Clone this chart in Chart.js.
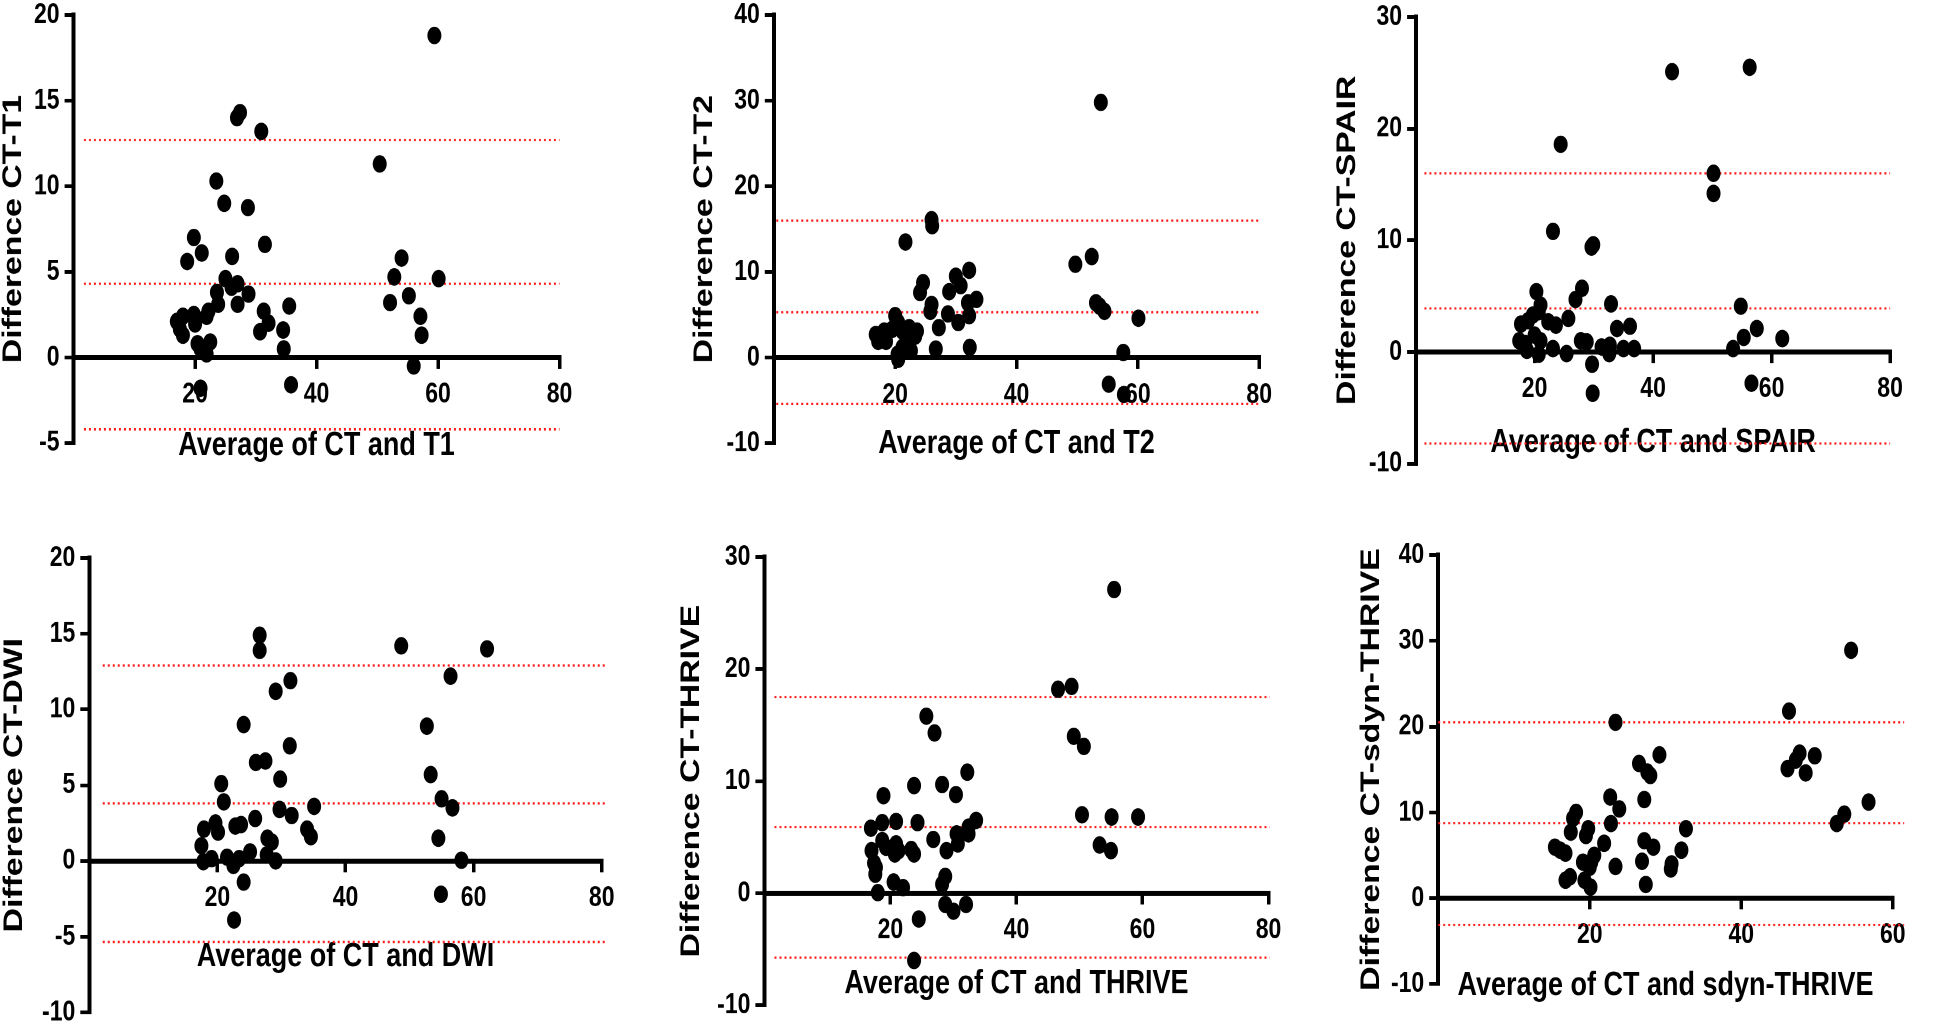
<!DOCTYPE html>
<html>
<head>
<meta charset="utf-8">
<script src="https://cdn.jsdelivr.net/npm/chart.js@4.4.1/dist/chart.umd.min.js"></script>
<style>
  html, body { margin: 0; background: #fff; }
  body { width: 1946px; height: 1026px; position: relative; overflow: hidden; }
  .panel { position: absolute; transform-origin: 0 0; }
</style>
</head>
<body>
<script>
// --- data: average (x) and difference (y) for each comparison ---
const t1Avg = [59.4, 26.9, 27.4, 30.9, 50.4, 23.5, 24.8, 28.7, 19.8, 21.1, 18.7, 31.5, 26.1, 54.0, 52.8, 60.1, 25.0, 26.0, 27.0, 23.6, 23.8, 28.8, 27.0, 55.2, 52.1, 35.5, 31.3, 32.1, 57.1, 30.7, 34.5, 57.3, 34.6, 56.0, 35.8, 20.9, 17.0, 18.0, 18.0, 17.5, 19.8, 20.0, 21.9, 22.2, 20.4, 20.9, 21.9, 22.5];
const t1Diff = [18.8, 14.0, 14.3, 13.2, 11.3, 10.3, 9.0, 8.75, 7.0, 6.1, 5.6, 6.6, 5.9, 5.8, 4.7, 4.6, 4.6, 4.1, 4.3, 3.8, 3.1, 3.7, 3.1, 3.6, 3.2, 3.0, 2.7, 2.0, 2.4, 1.5, 1.6, 1.3, 0.5, -0.5, -1.6, -1.8, 2.1, 2.4, 1.3, 1.65, 2.5, 1.95, 2.4, 2.7, 0.8, 0.5, 0.2, 0.9];

const t2Avg = [53.9, 26.0, 26.1, 21.7, 52.4, 49.7, 32.2, 24.6, 24.1, 30.0, 30.8, 28.9, 33.4, 32.0, 26.0, 25.8, 32.2, 28.7, 30.4, 27.2, 53.1, 53.7, 54.5, 60.1, 57.6, 55.2, 57.7, 26.7, 32.3, 16.8, 17.2, 18.2, 18.5, 20.0, 20.5, 19.5, 21.2, 22.3, 23.6, 23.3, 20.4, 20.5, 22.3, 22.6, 21.2];
const t2Diff = [29.8, 16.1, 15.4, 13.5, 11.8, 10.9, 10.2, 8.75, 7.6, 9.5, 8.4, 7.7, 6.8, 6.4, 6.2, 5.4, 4.9, 5.1, 4.1, 3.5, 6.4, 6.0, 5.4, 4.6, 0.6, -3.1, -4.3, 1.0, 1.2, 2.7, 1.9, 3.1, 1.9, 4.9, 4.1, 3.3, 3.1, 3.5, 3.1, 2.5, 0.4, -0.2, 1.6, 0.8, 1.2];

const spairAvg = [43.2, 56.3, 24.4, 50.2, 50.2, 23.1, 29.6, 29.9, 28.0, 26.9, 20.3, 32.9, 54.8, 21.0, 20.7, 19.7, 18.9, 17.7, 22.3, 23.6, 25.7, 33.9, 36.1, 57.5, 55.3, 61.8, 53.5, 17.4, 18.4, 20.0, 21.0, 18.7, 20.7, 23.1, 25.4, 27.8, 28.8, 31.3, 32.7, 32.6, 35.0, 36.8, 29.7, 29.8, 56.6];
const spairDiff = [25.1, 25.5, 18.6, 16.0, 14.2, 10.8, 9.4, 9.6, 5.7, 4.7, 5.4, 4.3, 4.1, 4.2, 3.6, 3.3, 2.8, 2.5, 2.7, 2.4, 3.0, 2.1, 2.3, 2.1, 1.3, 1.2, 0.3, 1.0, 0.75, 1.5, 1.0, 0.15, -0.2, 0.3, -0.15, 1.0, 0.9, 0.45, 0.6, -0.15, 0.3, 0.3, -1.1, -3.7, -2.8];

const dwiAvg = [26.6, 26.6, 48.7, 62.1, 56.4, 31.4, 29.1, 24.1, 52.7, 31.3, 26.0, 27.5, 29.8, 53.3, 20.6, 21.0, 55.0, 56.7, 35.1, 29.7, 31.6, 25.9, 23.7, 22.8, 19.7, 20.1, 17.9, 34.0, 34.6, 27.8, 28.5, 54.5, 17.5, 25.1, 27.7, 29.1, 58.1, 17.8, 19.1, 21.5, 22.5, 23.4, 24.1, 54.9, 22.6];
const dwiDiff = [14.9, 13.9, 14.2, 14.0, 12.2, 11.9, 11.2, 9.0, 8.9, 7.6, 6.5, 6.6, 5.4, 5.7, 5.1, 3.9, 4.1, 3.5, 3.6, 3.4, 3.0, 2.8, 2.4, 2.3, 2.5, 1.9, 2.1, 2.1, 1.6, 1.5, 1.25, 1.5, 1.0, 0.6, 0.4, 0.0, 0.05, -0.05, 0.15, 0.25, -0.3, 0.15, -1.4, -2.2, -3.9];

const thriveAvg = [55.5, 46.6, 48.75, 49.1, 50.7, 25.7, 27.0, 32.2, 28.2, 30.4, 23.75, 18.9, 50.4, 55.1, 59.3, 53.2, 55.0, 33.6, 32.4, 32.4, 30.5, 30.7, 26.8, 24.3, 20.9, 18.7, 16.9, 18.7, 19.3, 20.9, 21.3, 20.7, 23.3, 23.75, 28.9, 17.0, 17.4, 17.7, 17.6, 18.0, 20.5, 22.0, 28.7, 28.2, 28.7, 30.0, 32.0, 24.5, 23.75];
const thriveDiff = [27.1, 18.2, 18.45, 14.0, 13.1, 15.8, 14.3, 10.8, 9.7, 8.8, 9.6, 8.7, 7.0, 6.8, 6.8, 4.3, 3.8, 6.5, 5.9, 5.3, 5.3, 4.4, 4.8, 6.3, 6.4, 6.3, 5.8, 4.7, 4.1, 4.4, 3.8, 3.5, 3.9, 3.5, 3.8, 3.8, 2.7, 2.3, 1.7, 0.05, 1.0, 0.5, 1.5, 0.8, -1.0, -1.6, -1.0, -2.3, -6.0];

const sdynAvg = [54.5, 46.3, 23.4, 29.2, 47.7, 49.7, 47.2, 46.1, 48.5, 26.5, 27.6, 28.0, 22.7, 27.2, 23.9, 56.8, 53.6, 52.6, 18.2, 17.8, 17.5, 22.8, 32.7, 19.8, 19.5, 21.9, 27.2, 28.4, 15.4, 16.1, 16.8, 20.6, 20.2, 32.1, 19.1, 20.0, 26.9, 23.4, 30.8, 30.7, 16.8, 17.4, 19.3, 20.1, 27.4];
const sdynDiff = [28.9, 21.8, 20.5, 16.7, 16.9, 16.6, 16.1, 15.1, 14.6, 15.7, 14.7, 14.3, 11.8, 11.5, 10.4, 11.2, 9.8, 8.7, 10.0, 9.3, 7.7, 8.7, 8.1, 8.1, 7.3, 6.4, 6.7, 5.95, 5.95, 5.6, 5.25, 5.0, 4.2, 5.6, 4.2, 3.6, 4.3, 3.7, 4.0, 3.4, 2.1, 2.5, 2.1, 1.3, 1.6];

// upper limit, mean bias, lower limit (red dotted lines) and their x extent
const t1Limits = [12.7, 4.3, -4.2];
const t1LimitSpan = [1.7, 80];
const t2Limits = [16.0, 5.3, -5.4];
const t2LimitSpan = [0.4, 80];
const spairLimits = [16.0, 3.9, -8.2];
const spairLimitSpan = [1.4, 80];
const dwiLimits = [12.9, 3.8, -5.35];
const dwiLimitSpan = [2.1, 80.5];
const thriveLimits = [17.5, 5.9, -5.75];
const thriveLimitSpan = [1.6, 80.2];
const sdynLimits = [20.5, 8.75, -3.1];
const sdynLimitSpan = [0, 61.5];

// the source figure is stretched vertically, so each panel is drawn flat and scaled
const STRETCH = 1.25;
const PAD = 20;
const FAMILY = "'Liberation Sans', Arial, sans-serif";
const tickFont = { family: FAMILY, size: 23, weight: 'bold' };
const Y_TITLE_SIZE = 27;
const X_TITLE_SIZE = 27;

function makePanel(cfg) {
  const cl = cfg.yTitleX - Y_TITLE_SIZE / 2;
  const ct = cfg.top - PAD * STRETCH;
  const w = Math.round(cfg.right + 28 - cl);
  const h = Math.round((cfg.bottom - ct) / STRETCH + PAD);
  const padRight = w - (cfg.right - cl);
  const padBottom = h - (cfg.bottom - ct) / STRETCH;

  const wrap = document.createElement('div');
  wrap.className = 'panel';
  wrap.style.left = cl + 'px';
  wrap.style.top = ct + 'px';
  wrap.style.transform = 'scaleY(' + STRETCH + ')';
  const canvas = document.createElement('canvas');
  canvas.width = w;
  canvas.height = h;
  wrap.appendChild(canvas);
  document.body.appendChild(wrap);

  const datasets = [{
    data: cfg.avg.map((x, i) => ({ x: x, y: cfg.diff[i] })),
    backgroundColor: '#000',
    borderWidth: 0,
    pointRadius: 7,
    pointHoverRadius: 7
  }];
  cfg.limits.forEach(v => {
    datasets.push({
      data: [{ x: cfg.span[0], y: v }, { x: cfg.span[1], y: v }],
      showLine: true,
      borderColor: '#ff1a1a',
      borderWidth: 1.8,
      borderDash: [2, 3],
      pointRadius: 0,
      clip: false
    });
  });

  new Chart(canvas, {
    type: 'scatter',
    data: { datasets: datasets },
    options: {
      responsive: false,
      animation: false,
      devicePixelRatio: 2,
      layout: { padding: { left: 0, top: PAD, right: padRight, bottom: padBottom } },
      plugins: { legend: { display: false }, tooltip: { enabled: false } },
      scales: {
        x: {
          type: 'linear',
          min: 0,
          max: cfg.xMax,
          position: { y: 0 },
          afterFit: s => { s.height = cfg.titleGap / STRETCH + X_TITLE_SIZE * 0.6; },
          ticks: {
            stepSize: 20,
            padding: 9,
            color: '#000',
            font: tickFont,
            maxRotation: 0,
            callback: v => (v === 0 ? '' : v)
          },
          grid: { drawOnChartArea: false, color: '#000', lineWidth: 3.5, tickLength: 7 },
          border: { color: '#000', width: 4 },
          title: {
            display: true,
            text: cfg.xTitle,
            color: '#000',
            padding: 0,
            font: { family: FAMILY, size: X_TITLE_SIZE, weight: 'bold', lineHeight: 1.2 }
          }
        },
        y: {
          min: cfg.yMin,
          max: cfg.yMax,
          afterFit: s => { s.width = cfg.left - cl; },
          ticks: { stepSize: cfg.yStep, padding: 5, color: '#000', font: tickFont },
          grid: { drawOnChartArea: false, color: '#000', lineWidth: 3, tickLength: 9 },
          border: { color: '#000', width: 4 },
          title: {
            display: true,
            text: cfg.yTitle,
            color: '#000',
            padding: 0,
            font: { family: FAMILY, size: Y_TITLE_SIZE, weight: 'bold', lineHeight: 1 }
          }
        }
      }
    }
  });
}

makePanel({ avg: t1Avg, diff: t1Diff, limits: t1Limits, span: t1LimitSpan,
  xTitle: 'Average of CT and T1', yTitle: 'Difference CT-T1',
  xMax: 80, yMin: -5, yMax: 20, yStep: 5,
  left: 73.5, right: 559.4, top: 15, bottom: 443, yTitleX: 13.4, titleGap: 88 });

makePanel({ avg: t2Avg, diff: t2Diff, limits: t2Limits, span: t2LimitSpan,
  xTitle: 'Average of CT and T2', yTitle: 'Difference CT-T2',
  xMax: 80, yMin: -10, yMax: 40, yStep: 10,
  left: 774, right: 1259.4, top: 15, bottom: 443.3, yTitleX: 704.7, titleGap: 86 });

makePanel({ avg: spairAvg, diff: spairDiff, limits: spairLimits, span: spairLimitSpan,
  xTitle: 'Average of CT and SPAIR', yTitle: 'Difference CT-SPAIR',
  xMax: 80, yMin: -10, yMax: 30, yStep: 10,
  left: 1415.9, right: 1889.9, top: 16.7, bottom: 463.3, yTitleX: 1347.3, titleGap: 91 });

makePanel({ avg: dwiAvg, diff: dwiDiff, limits: dwiLimits, span: dwiLimitSpan,
  xTitle: 'Average of CT and DWI', yTitle: 'Difference CT-DWI',
  xMax: 80, yMin: -10, yMax: 20, yStep: 5,
  left: 89.4, right: 601.8, top: 558.3, bottom: 1012.7, yTitleX: 14.6, titleGap: 96 });

makePanel({ avg: thriveAvg, diff: thriveDiff, limits: thriveLimits, span: thriveLimitSpan,
  xTitle: 'Average of CT and THRIVE', yTitle: 'Difference CT-THRIVE',
  xMax: 80, yMin: -10, yMax: 30, yStep: 10,
  left: 764.4, right: 1268.5, top: 556.7, bottom: 1005, yTitleX: 691.5, titleGap: 90.7 });

makePanel({ avg: sdynAvg, diff: sdynDiff, limits: sdynLimits, span: sdynLimitSpan,
  xTitle: 'Average of CT and sdyn-THRIVE', yTitle: 'Difference CT-sdyn-THRIVE',
  xMax: 60, yMin: -10, yMax: 40, yStep: 10,
  left: 1438.4, right: 1893.0, top: 555, bottom: 984, yTitleX: 1371.7, titleGap: 87.3 });
</script>
</body>
</html>
